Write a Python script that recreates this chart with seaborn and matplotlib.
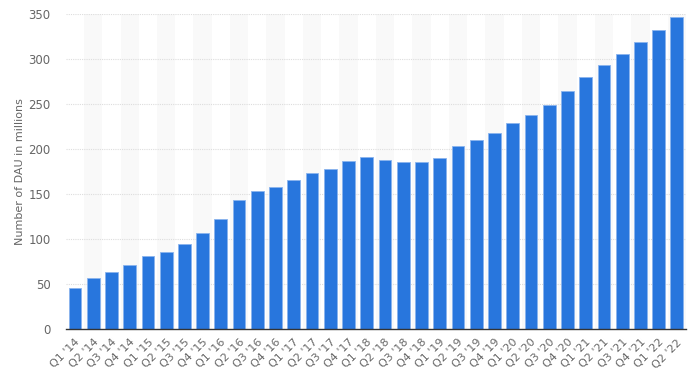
import matplotlib
matplotlib.use("Agg")
import matplotlib.pyplot as plt
import seaborn as sns
import pandas as pd

quarters = ["Q1 '14", "Q2 '14", "Q3 '14", "Q4 '14",
            "Q1 '15", "Q2 '15", "Q3 '15", "Q4 '15",
            "Q1 '16", "Q2 '16", "Q3 '16", "Q4 '16",
            "Q1 '17", "Q2 '17", "Q3 '17", "Q4 '17",
            "Q1 '18", "Q2 '18", "Q3 '18", "Q4 '18",
            "Q1 '19", "Q2 '19", "Q3 '19", "Q4 '19",
            "Q1 '20", "Q2 '20", "Q3 '20", "Q4 '20",
            "Q1 '21", "Q2 '21", "Q3 '21", "Q4 '21",
            "Q1 '22", "Q2 '22"]
dau = [46, 57, 63, 71, 81, 86, 94, 107, 122, 143, 153, 158,
       166, 173, 178, 187, 191, 188, 186, 186, 190, 203, 210, 218,
       229, 238, 249, 265, 280, 293, 306, 319, 332, 347]
y_ticks = [0, 50, 100, 150, 200, 250, 300, 350]

df = pd.DataFrame({"quarter": quarters, "dau": dau})

sns.set_theme(style="white")
plt.rcParams['font.family'] = ['DejaVu Sans']

fig = plt.figure(figsize=(7, 3.82), dpi=100)
ax = fig.add_axes([0.094, 0.139, 0.886, 0.824])

for i in range(1, len(quarters), 2):
    ax.axvspan(i - 0.5, i + 0.5, color="#f9f9f9", zorder=0, lw=0)

for t in y_ticks[1:]:
    ax.axhline(t, color="#dddddd", lw=0.8, ls=(0, (1, 1)), zorder=1)

sns.barplot(data=df, x="quarter", y="dau", color="#2876dd", width=0.7,
            edgecolor="#8ab4ee", linewidth=0.6, saturation=1, ax=ax, zorder=2)

ax.set_xlim(-0.5, len(quarters) - 0.5)
ax.set_ylim(0, 350)
ax.set_yticks(y_ticks)
ax.set_yticklabels([str(t) for t in y_ticks], fontsize=8.5, color="#666666")
ax.set_xticks(range(len(quarters)))
ax.set_xticklabels(quarters, rotation=45, ha="right", rotation_mode="anchor",
                   fontsize=8, color="#666666")
ax.tick_params(axis="x", length=0, pad=6)
ax.tick_params(axis="y", length=0, pad=11)
ax.set_xlabel("")
ax.set_ylabel("Number of DAU in millions", fontsize=8, color="#666666", labelpad=2)

for s in ["top", "right", "left"]:
    ax.spines[s].set_visible(False)
ax.spines["bottom"].set_color("#333333")
ax.spines["bottom"].set_linewidth(1.0)
ax.spines["bottom"].set_zorder(3)

fig.savefig("out.png", dpi=100)
